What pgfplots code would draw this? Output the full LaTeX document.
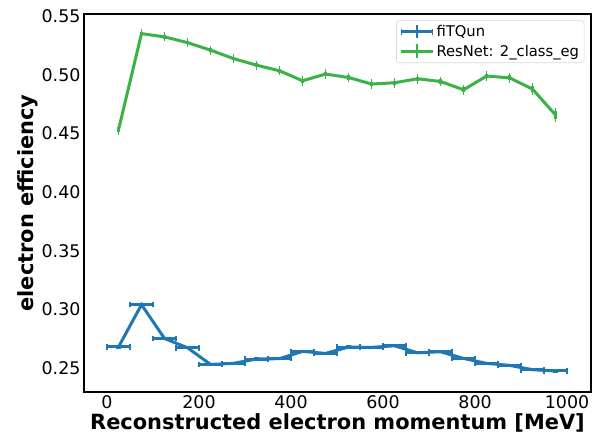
\documentclass[border=0pt]{standalone}
\usepackage{pgfplots}
\pgfplotsset{compat=1.18}
\usepackage{fontspec}
\setmainfont{DejaVu Sans}
\definecolor{cblue}{RGB}{31,119,180}
\definecolor{cgreen}{RGB}{59,178,70}

\pgfplotsset{
  bluelegend/.style={legend image code/.code={
    \draw[line width=3bp] (0bp,0bp) -- (32bp,0bp);
    \draw[line width=1.2bp] (0.6bp,-3bp) -- (0.6bp,3bp);
    \draw[line width=1.2bp] (31.4bp,-3bp) -- (31.4bp,3bp);
    \draw[line width=2.4bp] (16bp,-6.5bp) -- (16bp,6.5bp);
  }},
  greenlegend/.style={legend image code/.code={
    \draw[line width=3bp] (0bp,0bp) -- (32bp,0bp);
    \draw[line width=2.6bp] (16bp,-7bp) -- (16bp,7bp);
  }},
}

\begin{document}
\begin{tikzpicture}[x=1bp,y=1bp]
\useasboundingbox (-84bp,-42bp) rectangle (508bp,392bp);
\begin{axis}[
  at={(0,0)}, anchor=south west,
  scale only axis,
  width=507bp, height=378bp,
  xmin=-50, xmax=1052,
  ymin=0.2296, ymax=0.5517,
  xtick={0,200,400,600,800,1000},
  ytick={0.25,0.30,0.35,0.40,0.45,0.50,0.55},
  xticklabel style={/pgf/number format/.cd,1000 sep={}},
  yticklabel style={/pgf/number format/.cd,fixed,fixed zerofill,precision=2},
  /pgf/number format/assume math mode=true,
  major tick length=0pt,
  axis line style={line width=1.4bp},
  ticklabel style={font=\fontsize{17.5}{20}\selectfont},
  label style={font=\bfseries\fontsize{21}{24}\selectfont},
  xlabel={Reconstructed electron momentum [MeV]},
  ylabel={electron efficiency},
  xlabel style={yshift=2bp},
  ylabel style={yshift=-3bp},
  legend style={at={(0.987,0.984)}, anchor=north east,
    draw=black!15, rounded corners=3bp, line width=0.6bp,
    font=\fontsize{14.8}{17}\selectfont, row sep=3bp,
    inner xsep=3bp, inner ysep=3bp,
    nodes={inner sep=2bp}},
  legend cell align=left,
]
% fiTQun: bin-wide horizontal errors
\addplot[color=cblue, line width=3bp, bluelegend,
  error bars/.cd, x dir=both, x explicit, y dir=both, y explicit,
  error bar style={line width=3bp},
  error mark options={line width=1.4bp, mark size=2.8bp, rotate=90}]
  coordinates {
  (25,0.2680) +- (25,0.0008)
  (75,0.3040) +- (25,0.0010)
  (125,0.2752) +- (25,0.0008)
  (175,0.2673) +- (25,0.0008)
  (225,0.2531) +- (25,0.0008)
  (275,0.2540) +- (25,0.0008)
  (325,0.2577) +- (25,0.0008)
  (375,0.2580) +- (25,0.0008)
  (425,0.2642) +- (25,0.0008)
  (475,0.2625) +- (25,0.0008)
  (525,0.2679) +- (25,0.0008)
  (575,0.2676) +- (25,0.0008)
  (625,0.2690) +- (25,0.0008)
  (675,0.2630) +- (25,0.0008)
  (725,0.2639) +- (25,0.0008)
  (775,0.2582) +- (25,0.0008)
  (825,0.2540) +- (25,0.0008)
  (875,0.2523) +- (25,0.0008)
  (925,0.2486) +- (25,0.0008)
  (975,0.2475) +- (25,0.0008)
  };
\addlegendentry{fiTQun}
% ResNet: statistical errors only
\addplot[color=cgreen, line width=3bp, greenlegend,
  error bars/.cd, y dir=both, y explicit,
  error bar style={line width=2.4bp},
  error mark options={line width=1.4bp, mark size=2.8bp}]
  coordinates {
  (25,0.4530) +- (0,0.0020)
  (75,0.5350) +- (0,0.0015)
  (125,0.5322) +- (0,0.0015)
  (175,0.5273) +- (0,0.0015)
  (225,0.5209) +- (0,0.0015)
  (275,0.5137) +- (0,0.0015)
  (325,0.5081) +- (0,0.0015)
  (375,0.5033) +- (0,0.0015)
  (425,0.4948) +- (0,0.0018)
  (475,0.5005) +- (0,0.0018)
  (525,0.4976) +- (0,0.0018)
  (575,0.4920) +- (0,0.0018)
  (625,0.4931) +- (0,0.0018)
  (675,0.4965) +- (0,0.0018)
  (725,0.4942) +- (0,0.0018)
  (775,0.4871) +- (0,0.0020)
  (825,0.4988) +- (0,0.0020)
  (875,0.4973) +- (0,0.0020)
  (925,0.4877) +- (0,0.0025)
  (975,0.4656) +- (0,0.0035)
  };
\addlegendentry{ResNet: 2\_class\_eg}
\end{axis}
\end{tikzpicture}
\end{document}
